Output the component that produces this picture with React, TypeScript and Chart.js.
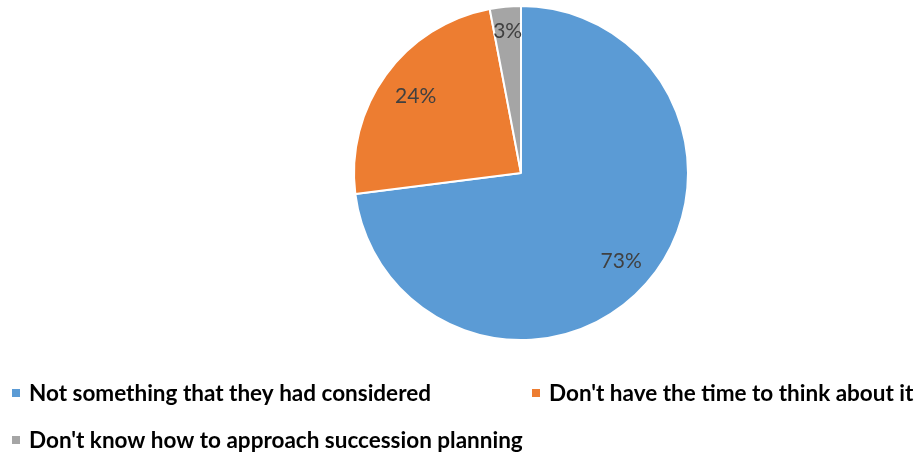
import React, { useEffect, useRef } from "react";
import { Chart, registerables } from "chart.js";

Chart.register(...registerables);

const categories = [
  "Not something that they had considered",
  "Don't have the time to think about it",
  "Don't know how to approach succession planning",
];
const values = [73, 24, 3];
const valueLabels = ["73%", "24%", "3%"];
const colors = ["#5B9BD5", "#ED7D31", "#A5A5A5"];
const labelRadiusFactors = [0.8, 0.78, 0.85];

const FONT = "Lato, 'Open Sans', sans-serif";

const dataLabelPlugin = {
  id: "dataLabels",
  afterDatasetsDraw(chart: any) {
    const ctx = chart.ctx;
    const meta = chart.getDatasetMeta(0);
    ctx.save();
    ctx.font = `21px ${FONT}`;
    ctx.fillStyle = "#404040";
    ctx.textAlign = "center";
    ctx.textBaseline = "middle";
    meta.data.forEach((arc: any, i: number) => {
      const p = arc.getProps(["x", "y", "startAngle", "endAngle", "outerRadius"], true);
      const mid = (p.startAngle + p.endAngle) / 2;
      const r = p.outerRadius * labelRadiusFactors[i];
      ctx.fillText(valueLabels[i], p.x + Math.cos(mid) * r, p.y + Math.sin(mid) * r);
    });
    ctx.restore();
  },
};

const legendPlugin = {
  id: "customLegend",
  afterDraw(chart: any) {
    const ctx = chart.ctx;
    const labels = chart.data.labels as string[];
    const bg = chart.data.datasets[0].backgroundColor as string[];
    const colX = [12, 532];
    const rowY = [393, 440];
    ctx.save();
    ctx.font = `bold 22.5px ${FONT}`;
    ctx.fillStyle = "#000000";
    ctx.textAlign = "left";
    ctx.textBaseline = "middle";
    labels.forEach((t, i) => {
      const x = colX[i % 2];
      const y = rowY[Math.floor(i / 2)];
      ctx.fillStyle = bg[i];
      ctx.fillRect(x, y - 4, 8, 8);
      ctx.fillStyle = "#000000";
      ctx.fillText(t, x + 17, y + 1);
    });
    ctx.restore();
  },
};

export default function App() {
  const ref = useRef<HTMLCanvasElement>(null);
  useEffect(() => {
    if (!ref.current) return;
    const chart = new Chart(ref.current, {
      type: "pie",
      data: {
        labels: categories,
        datasets: [
          {
            data: values,
            backgroundColor: colors,
            borderColor: "#ffffff",
            borderWidth: 2,
          },
        ],
      },
      options: {
        animation: false,
        responsive: false,
        layout: { padding: { top: 5, bottom: 111, left: 126, right: 0 } },
        plugins: {
          legend: { display: false },
          tooltip: { enabled: false },
        },
      },
      plugins: [dataLabelPlugin, legendPlugin],
    });
    return () => chart.destroy();
  }, []);
  return (
    <div style={{ position: "absolute", left: 0, top: 0, width: 916, height: 452, background: "#fff" }}>
      <canvas ref={ref} width={916} height={452} style={{ display: "block" }} />
    </div>
  );
}
